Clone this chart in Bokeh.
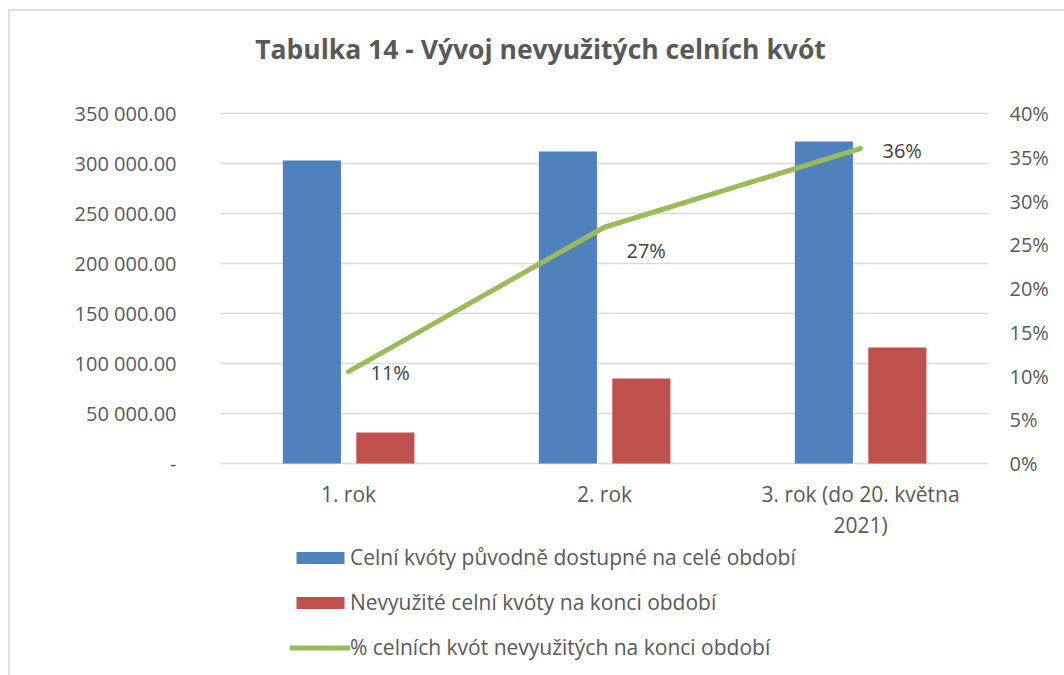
from bokeh.plotting import figure
from bokeh.models import (ColumnDataSource, Range1d, LinearAxis, FactorRange, Legend,
                          LegendItem, FixedTicker, Label)
from bokeh.transform import dodge
from bokeh.core.properties import value
from bokeh.embed import file_html
from bokeh.resources import INLINE

# ---- data ----
categories = ["1. rok", "2. rok", "3. rok (do 20. května\n2021)"]
available_quotas = [303000, 312000, 322000]
unused_quotas = [31000, 85000, 116000]
unused_share = [0.105, 0.27, 0.36]
share_labels = ["11%", "27%", "36%"]
series_names = ["Celní kvóty původně dostupné na celé období",
                "Nevyužité celní kvóty na konci období",
                "% celních kvót nevyužitých na konci období"]
left_ticks = [0, 50000, 100000, 150000, 200000, 250000, 300000, 350000]
left_tick_labels = ["-", "50 000.00", "100 000.00", "150 000.00", "200 000.00",
                    "250 000.00", "300 000.00", "350 000.00"]
right_ticks = [0, 0.05, 0.10, 0.15, 0.20, 0.25, 0.30, 0.35, 0.40]
right_tick_labels = ["0%", "5%", "10%", "15%", "20%", "25%", "30%", "35%", "40%"]
title_text = "Tabulka 14 - Vývoj nevyužitých celních kvót"

FONT = "Open Sans"
GREY = "#595959"

W, H = 1064, 675
LEFT, RIGHT = 220, 76
AX_TOP_PX, AX_BOT_PX = 113, 463          # where 350 000 / 0 sit on the canvas
Y_MAX = 350000
PCT_MAX = 0.40
units_per_px = Y_MAX / (AX_BOT_PX - AX_TOP_PX)
y_lo = -(H - AX_BOT_PX) * units_per_px
y_hi = Y_MAX + AX_TOP_PX * units_per_px
pct_scale = PCT_MAX / Y_MAX

src = ColumnDataSource(dict(cat=categories, avail=available_quotas, unused=unused_quotas,
                            share=unused_share, lab=share_labels,
                            yoff=[1, 23, 2], base=[0] * len(categories)))

BORDER = "#e0e0e0"
p = figure(width=W, height=H, x_range=FactorRange(*categories),
           y_range=Range1d(y_lo, y_hi), output_backend="svg", toolbar_location=None,
           min_border_left=LEFT, min_border_right=RIGHT, min_border_top=0,
           min_border_bottom=0, background_fill_color=None,
           border_fill_color=None)
p.styles = {"background": (f"linear-gradient({BORDER},{BORDER}) 8px 9px / 2px 100% no-repeat, "
                           f"linear-gradient({BORDER},{BORDER}) 8px 9px / 100% 2px no-repeat, "
                           "white")}
p.outline_line_color = None
p.extra_y_ranges = {"pct": Range1d(y_lo * pct_scale, y_hi * pct_scale)}

r_blue = p.vbar(x=dodge("cat", -0.143, range=p.x_range), top="avail", width=0.227,
                source=src, fill_color="#4F81BD", line_color=None)
r_red = p.vbar(x=dodge("cat", 0.144, range=p.x_range), top="unused", width=0.227,
               source=src, fill_color="#C0504D", line_color=None)
r_line = p.line(x="cat", y="share", source=src, y_range_name="pct",
                line_color="#9BBB59", line_width=5, line_cap="round", line_join="round")
p.text(x="cat", y="share", text="lab", source=src, y_range_name="pct",
       x_offset=22, y_offset="yoff", text_align="left", text_baseline="middle",
       text_font=value(FONT), text_font_size="20px", text_color="#404040")

# category labels under the baseline
p.text(x="cat", y="base", text="cat", source=src, y_offset=16,
       text_align="center", text_baseline="top", text_line_height=1.12,
       text_font=value(FONT), text_font_size="21px", text_color=GREY)

# title
p.add_layout(Label(x=320, y=H - 48, x_units="screen", y_units="screen",
                   text=title_text, text_align="center", text_baseline="middle",
                   text_font=FONT, text_font_size="26.5px", text_font_style="bold",
                   text_color=GREY))

# left axis
ya = p.yaxis[0]
ya.ticker = FixedTicker(ticks=left_ticks)
ya.major_label_overrides = {v: l for v, l in zip(left_ticks, left_tick_labels)}
ya.axis_line_color = None
ya.major_tick_line_color = None
ya.minor_tick_line_color = None
ya.major_label_standoff = 38
ya.major_label_text_font = FONT
ya.major_label_text_font_size = "20px"
ya.major_label_text_color = GREY

# right axis
ra = LinearAxis(y_range_name="pct", ticker=FixedTicker(ticks=right_ticks))
ra.major_label_overrides = {v: l for v, l in zip(right_ticks, right_tick_labels)}
ra.axis_line_color = None
ra.major_tick_line_color = None
ra.minor_tick_line_color = None
ra.major_label_standoff = 15
ra.major_label_text_font = FONT
ra.major_label_text_font_size = "20px"
ra.major_label_text_color = GREY
p.add_layout(ra, "right")

p.xaxis.visible = False
p.xgrid.grid_line_color = None
p.ygrid.ticker = FixedTicker(ticks=left_ticks)
p.ygrid.grid_line_color = "#d9d9d9"
p.ygrid.grid_line_width = 1.5

legend = Legend(items=[LegendItem(label=series_names[0], renderers=[r_blue]),
                       LegendItem(label=series_names[1], renderers=[r_red]),
                       LegendItem(label=series_names[2], renderers=[r_line])],
                orientation="vertical", location=(70, 14),
                glyph_width=60, glyph_height=15, label_height=20,
                spacing=17, padding=0, margin=0, label_standoff=0,
                label_text_font=FONT, label_text_font_size="21px",
                label_text_color=GREY, border_line_color=None,
                background_fill_alpha=0)
p.add_layout(legend, "center")

open("out.html", "w").write(file_html(p, INLINE))
